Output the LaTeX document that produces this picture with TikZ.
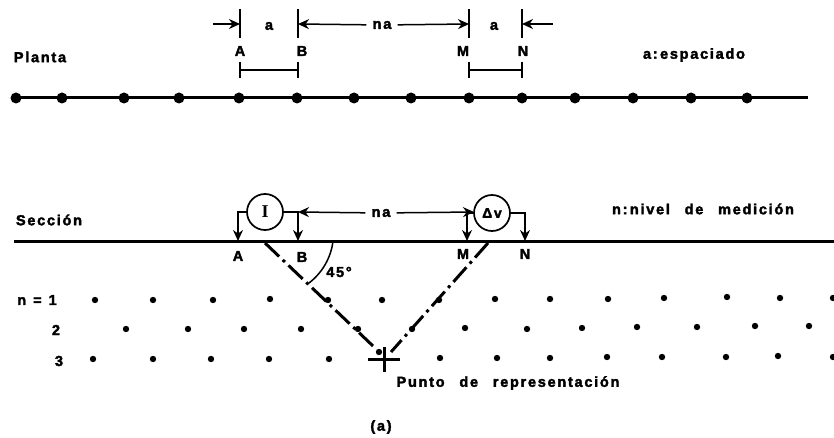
\documentclass[tikz,border=0pt]{standalone}
\usepackage{fontspec}
\setmainfont[LetterSpace=12,BoldFeatures={FakeBold=2.4}]{Liberation Sans}
\usepackage{tikz}
\usetikzlibrary{arrows.meta}
\tikzset{
  lbl/.style={font=\bfseries\fontsize{14.5}{16}\selectfont,inner sep=1pt},
  dimlbl/.style={lbl,inner sep=6pt},
  wire/.style={line width=1.5pt},
  tipwire/.style={wire,-{Stealth[length=11pt,width=10pt]}},
  ground/.style={line width=3pt},
  meter/.style={draw,circle,line width=1.7pt,minimum size=36pt,inner sep=0pt},
  rayline/.style={line width=3pt,dash pattern=on 19.5pt off 5pt on 3pt off 5pt}
}
\begin{document}
\begin{tikzpicture}[x=1pt,y=-1pt]
\useasboundingbox (0,0) rectangle (834,438);
% planta
\node[lbl] (planta) at (40,57) {Planta};
\node[lbl] (espaciado) at (694,55) {a:\,espaciado};
\coordinate (gleft) at (14,98);
\coordinate (gright) at (808,98);
\draw[ground] (gleft) -- (gright);
\foreach \p in {16,62,124,179,239,297,354,411,469,522,575,633,691,747}{\fill (\p,98) circle (5.5pt);}
% ticks
\foreach \n/\x/\t in {ta/240/A,tb/298/B,tm/469/M,tn/522/N}{
  \coordinate (\n1) at (\x,9);
  \coordinate (\n2) at (\x,38);
  \draw[wire] (\n1) -- (\n2);
  \coordinate (\n3) at (\x,62);
  \coordinate (\n4) at (\x,78);
  \draw[wire] (\n3) -- (\n4);
}
\node[lbl] (pa) at (240,51) {A};
\node[lbl] (pb) at (302,51) {B};
\node[lbl] (pm) at (463,51) {M};
\node[lbl] (pn) at (523,51) {N};
\coordinate (ba) at (240,70);
\coordinate (bb) at (298,70);
\coordinate (bm) at (469,70);
\coordinate (bn) at (522,70);
\draw[wire] (ba) -- (bb);
\draw[wire] (bm) -- (bn);
% top dimensions
\node[lbl] (ta) at (269,26) {a};
\node[dimlbl] (tna) at (382,25) {na};
\node[lbl] (tb) at (494,26) {a};
\coordinate (ts) at (213,24);
\coordinate (te) at (553,24);
\coordinate (tipa) at (240,24);
\coordinate (tipb) at (298,24);
\coordinate (tipm) at (469,24);
\coordinate (tipn) at (522,24);
\draw[tipwire] (ts) -- (tipa);
\draw[tipwire] (te) -- (tipn);
\draw[tipwire] (tna) -- (tipb);
\draw[tipwire] (tna) -- (tipm);
% seccion
\node[lbl] (seccion) at (49,220) {Sección};
\node[lbl] (nivel) at (703,209) {n:\,nivel\hspace{9pt} de\hspace{9pt} medición};
\coordinate (sleft) at (14,241);
\coordinate (sright) at (834,241);
\draw[ground] (sleft) -- (sright);
\node[meter] (mi) at (265,212) {\fontsize{18}{18}\selectfont\bfseries\fontspec{Liberation Serif}I};
\node[meter] (mv) at (492,213) {\fontsize{14}{14}\selectfont\bfseries Δv};
\coordinate (ea) at (238,241);
\coordinate (eb) at (298,241);
\coordinate (em) at (467,241);
\coordinate (en) at (525,241);
\draw[tipwire] (mi.west) -| (ea);
\draw[tipwire] (mi.east) -| (eb);
\draw[tipwire] (mv.west) -| (em);
\draw[tipwire] (mv.east) -| (en);
\node[dimlbl] (sna) at (381,213) {na};
\coordinate (nal) at (298,212);
\coordinate (nar) at (474,212);
\draw[tipwire] (sna) -- (nal);
\draw[tipwire] (sna) -- (nar);
\node[lbl] (sa) at (238,256) {A};
\node[lbl] (sb) at (302,257) {B};
\node[lbl] (sm) at (463,254) {M};
\node[lbl] (sn) at (525,254) {N};
% rays and angle
\coordinate (rl) at (265,243);
\coordinate (rr) at (488,243);
\coordinate (rlb) at (373,346);
\coordinate (rrb) at (391,352);
\draw[rayline] (rl) -- (rlb);
\draw[rayline] (rr) -- (rrb);
\coordinate (arca) at (333,241);
\coordinate (arcb) at (309,283);
\draw[wire] (arca) .. controls (331,258) and (322,273) .. (arcb);
\node[lbl] (ang) at (339,272) {45°};
% cross
\coordinate (cw) at (368,359);
\coordinate (ce) at (400,359);
\coordinate (cn) at (384,347);
\coordinate (cs) at (384,372);
\draw[line width=3pt] (cw) -- (ce);
\draw[line width=3pt] (cn) -- (cs);
% dots
\foreach \x/\y in {95/300,153/300,213/300,270/299,328/300,382/300,439/300,495/299,550/299,608/299,664/298,727/297,780/298,833/298}{\fill (\x,\y) circle (3.2pt);}
\foreach \x/\y in {126/329,188/329,244/329,301/329,358/329,412/329,465/328,527/329,582/328,637/327,697/327,755/326,809/326}{\fill (\x,\y) circle (3.2pt);}
\foreach \x/\y in {93/359,153/359,211/359,269/359,329/359,379/352,440/358,497/358,550/358,607/357,662/357,726/357,778/356,833/357}{\fill (\x,\y) circle (3.2pt);}
% labels
\node[lbl] (n1) at (37,300) {n\hspace{7pt}=\hspace{7pt}1};
\node[lbl] (n2) at (56,330) {2};
\node[lbl] (n3) at (59,361) {3};
\node[lbl] (punto) at (508,383) {Punto\hspace{9pt} de\hspace{9pt} representación};
\node[lbl] (cap) at (381,427) {(a)};
\end{tikzpicture}
\end{document}
